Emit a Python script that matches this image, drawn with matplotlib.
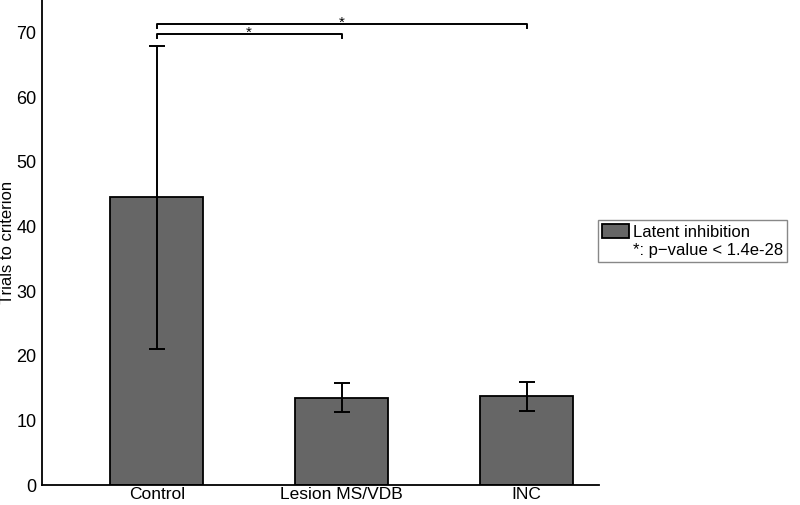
import numpy as np
import matplotlib.pyplot as plt
from matplotlib.patches import Rectangle

plt.rcParams['font.family'] = ['Liberation Sans', 'DejaVu Sans']

groups = ['Control', 'Lesion MS/VDB', 'INC']
means = [44.5, 13.5, 13.7]
errs = [23.4, 2.2, 2.2]
yticks = [0, 10, 20, 30, 40, 50, 60, 70]

# significance brackets: (from, to, height)
pairs = [(0, 1, 69.7), (0, 2, 71.3)]

fig = plt.figure(figsize=(8, 5.05), dpi=100)
ax = fig.add_axes([0.0525, 0.0396, 0.696, 0.9604])

x = np.arange(1, len(groups) + 1)
bars = ax.bar(x, means, width=0.5, color='#666666', edgecolor='black',
              linewidth=1.3, label='Latent inhibition', zorder=2)
ax.errorbar(x, means, yerr=errs, fmt='none', ecolor='black',
            elinewidth=1.4, capsize=5.5, capthick=1.4, zorder=3)

drop = 0.6
for a, b, h in pairs:
    xa, xb = x[a], x[b]
    ax.plot([xa, xa, xb, xb], [h - drop, h, h, h - drop], color='black',
            lw=1.4, clip_on=False, zorder=3)
    ax.text((xa + xb) / 2, h - 0.9, '*', ha='center', va='bottom',
            fontsize=11)

ax.set_xlim(0.38, 3.39)
ax.set_ylim(0, 75)
ax.set_xticks(x)
ax.set_xticklabels(groups, fontsize=12.5)
ax.set_yticks(yticks)
ax.tick_params(axis='y', length=0, labelsize=13, pad=4)
ax.tick_params(axis='x', length=0, labelsize=12.5, pad=1.5)
ax.set_ylabel('Trials to criterion', fontsize=12, labelpad=1)
for s in ['top', 'right']:
    ax.spines[s].set_visible(False)
for s in ['left', 'bottom']:
    ax.spines[s].set_linewidth(1.3)

blank = Rectangle((0, 0), 1, 1, fill=False, edgecolor='none', visible=False)
leg = ax.legend([bars, blank], ['Latent inhibition', '*: p\u2212value < 1.4e-28'],
                loc='upper left', bbox_to_anchor=(0.7475, 0.5645),
                bbox_transform=fig.transFigure, fontsize=12, fancybox=False,
                framealpha=1, edgecolor='#888888', borderpad=0.25,
                handlelength=1.6, handleheight=0.9, handletextpad=0.25,
                labelspacing=0.15, borderaxespad=0)
leg.get_frame().set_linewidth(1.0)

fig.savefig('out.png', dpi=100)
